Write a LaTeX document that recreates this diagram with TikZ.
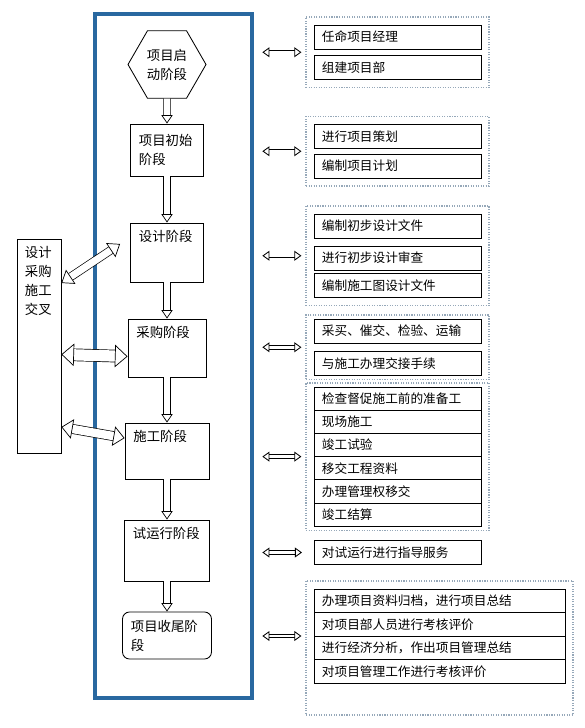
\documentclass[tikz,border=0pt]{standalone}
\usepackage{fontspec}
\newfontfamily\cjk{Noto Sans CJK SC}
\usepackage{tikz}
\usetikzlibrary{arrows.meta,shapes,positioning,fit}

\definecolor{frameblue}{RGB}{41,104,160}
\definecolor{dotgray}{RGB}{150,168,185}

\begin{document}
\begin{tikzpicture}[x=0.025cm,y=-0.025cm,
stagebox/.style={draw,semithick,font=\cjk\fontsize{9.5}{13.5}\selectfont,align=left,inner xsep=6pt,inner ysep=4pt},
topbox/.style={text height=9pt,text depth=#1},
itembox/.style={draw,semithick,outer sep=0pt,font=\cjk\fontsize{9}{11}\selectfont,align=left,text width=3.775cm,inner xsep=0.2cm,minimum height=0.6cm},
groupbox/.style={draw=dotgray,densely dotted,thick,inner sep=0.2cm},
downarrow/.style={double,double distance=4pt,line width=0.5pt,-{Triangle[open,fill=white,line width=0.5pt,width=8pt,length=6pt]}},
linkarrow/.style={double,double distance=2pt,line width=0.6pt,{Triangle[open,fill=white,line width=0.6pt,width=7pt,length=5pt]}-{Triangle[open,fill=white,line width=0.6pt,width=7pt,length=5pt]},shorten <=0.22cm,shorten >=0.1cm},
crossarrow/.style n args={3}{double,double distance=#1,line width=0.5pt,{Triangle[open,fill=white,line width=0.5pt,width=#2,length=#3]}-{Triangle[open,fill=white,line width=0.5pt,width=#2,length=#3]}}]
\useasboundingbox (0,0) rectangle (584,728);
\coordinate (fa) at (95,14);
\coordinate (fb) at (252,698);
\node[draw=frameblue,line width=2.2pt,fit=(fa)(fb),inner sep=0pt] (frame) {};

\node[stagebox,regular polygon,regular polygon sides=6,minimum size=1.95cm,inner sep=0pt,align=center] (start) at (167,64.5) {项目启\\动阶段};
\node[stagebox,text width=39.9pt,minimum height=1.3cm] (init) at (167,150) {项目初始\\阶段};
\node[stagebox,topbox=25pt,text width=39.9pt] (design) at (167,252.5) {设计阶段};
\node[stagebox,topbox=24.3pt,text width=43.5pt] (purchase) at (167,348) {采购阶段};
\node[stagebox,topbox=22.8pt,text width=47.7pt] (build) at (167,451) {施工阶段};
\node[stagebox,topbox=26.4pt,text width=48.5pt] (trial) at (167,550.5) {试运行阶段};
\node[stagebox,rounded corners=5pt,text width=51.3pt,minimum height=1.175cm] (closing) at (167,635.5) {项目收尾阶\\段};
\node[stagebox,topbox=135.2pt,text width=20pt,inner xsep=5.6pt] (crossbox) at (39,346) {设计\\采购\\施工\\交叉};

\draw[downarrow] (start) -- (init);
\draw[downarrow] (init) -- (design);
\draw[downarrow] (design) -- (purchase);
\draw[downarrow] (purchase) -- (build);
\draw[downarrow] (build) -- (trial);
\draw[downarrow] (trial) -- (closing);

\draw[crossarrow={5pt}{12pt}{8pt},shorten >=0.3cm] ([yshift=44.8pt]crossbox.east) -- ([yshift=10.8pt]design.west);
\draw[crossarrow={8pt}{16pt}{9pt}] ([yshift=-6pt]crossbox.east) -- ([yshift=-6pt]purchase.west);
\draw[crossarrow={6pt}{14pt}{8pt}] ([yshift=-57.6pt]crossbox.east) -- ([yshift=9.2pt]build.west);

\node[itembox] (appoint) at (397.5,37) {任命项目经理};
\node[itembox] (organize) at (397.5,67.5) {组建项目部};
\node[itembox] (planning) at (397.5,136.5) {进行项目策划};
\node[itembox] (schedule) at (397.5,166) {编制项目计划};
\node[itembox] (prelim) at (397.5,226) {编制初步设计文件};
\node[itembox] (review) at (397.5,258) {进行初步设计审查};
\node[itembox] (drawings) at (397.5,285.5) {编制施工图设计文件};
\node[itembox] (procure) at (397.5,331) {采买、催交、检验、运输};
\node[itembox] (handover) at (397.5,363.5) {与施工办理交接手续};
\node[itembox,minimum height=0.58cm] (inspect) at (397.5,398.6) {检查督促施工前的准备工};
\node[itembox,minimum height=0.58cm,below=0pt of inspect] (site) {现场施工};
\node[itembox,minimum height=0.58cm,below=0pt of site] (tests) {竣工试验};
\node[itembox,minimum height=0.58cm,below=0pt of tests] (records) {移交工程资料};
\node[itembox,minimum height=0.58cm,below=0pt of records] (transfer) {办理管理权移交};
\node[itembox,minimum height=0.58cm,below=0pt of transfer] (accounts) {竣工结算};
\node[itembox] (guide) at (397.5,552.5) {对试运行进行指导服务};
\node[itembox,text width=5.875cm,minimum height=0.59cm] (archive) at (439.5,600.8) {办理项目资料归档，进行项目总结};
\node[itembox,text width=5.875cm,minimum height=0.59cm,below=0pt of archive] (assess) {对项目部人员进行考核评价};
\node[itembox,text width=5.875cm,minimum height=0.59cm,below=0pt of assess] (analysis) {进行经济分析，作出项目管理总结};
\node[itembox,text width=5.875cm,minimum height=0.59cm,below=0pt of analysis] (evaluate) {对项目管理工作进行考核评价};

\node[groupbox,fit=(appoint)(organize)] (gstart) {};
\node[groupbox,fit=(planning)(schedule)] (ginit) {};
\node[groupbox,fit=(prelim)(drawings)] (gdesign) {};
\node[groupbox,inner ysep=0.1cm,fit=(procure)(handover)] (gpurchase) {};
\node[groupbox,inner ysep=0.1cm,fit=(inspect)(accounts)] (gbuild) {};
\coordinate (gend) at (565,707);
\node[groupbox,fit=(archive)(evaluate)(gend)] (gclose) {};
\coordinate (gclosein) at ([yshift=0.3cm]gclose.west);

\draw[linkarrow] (frame.east |- gstart) -- (gstart);
\draw[linkarrow] (frame.east |- ginit) -- (ginit);
\draw[linkarrow] (frame.east |- gdesign) -- (gdesign);
\draw[linkarrow] (frame.east |- gpurchase) -- (gpurchase);
\draw[linkarrow] (frame.east |- gbuild) -- (gbuild);
\draw[linkarrow,shorten >=0.3cm] (frame.east |- guide) -- (guide);
\draw[linkarrow] (frame.east |- gclosein) -- (gclosein);
\end{tikzpicture}
\end{document}
